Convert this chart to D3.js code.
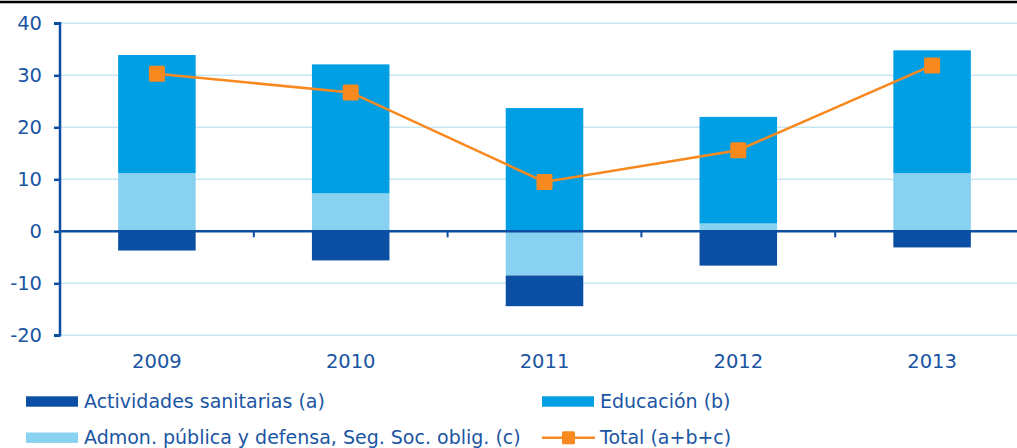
<!DOCTYPE html>
<html>
<head>
<meta charset="utf-8">
<script src="https://cdn.jsdelivr.net/npm/d3@7"></script>
<style>
  body { margin: 0; background: #fff; }
  svg text { font-family: "DejaVu Sans", Verdana, sans-serif; fill: #1a55a3; }
</style>
</head>
<body>
<svg id="chart" width="1017" height="448"></svg>
<script>
const years = ["2009", "2010", "2011", "2012", "2013"];
const sanitarias = [-3.7, -5.6, -5.9, -6.6, -3.1];   // (a)
const educacion = [22.7, 24.8, 23.7, 20.5, 23.6];    // (b)
const admon = [11.2, 7.3, -8.5, 1.5, 11.2];          // (c)
const total = [30.3, 26.7, 9.5, 15.6, 31.9];         // (a+b+c)
const yTicks = [-20, -10, 0, 10, 20, 30, 40];
const legendLabels = ["Actividades sanitarias (a)", "Educación (b)", "Admon. pública y defensa, Seg. Soc. oblig. (c)", "Total (a+b+c)"];

const colors = { a: "#0a4fa3", b: "#009fe3", c: "#89d1f1", total: "#f7891f" };
const axisColor = "#0b4ea2";
const gridColor = "#c8e7f4";

const svg = d3.select("#chart");
const W = 1017;
const mLeft = 60, mRight = 1029, mTop = 23.3, mBottom = 335.3;

const x = d3.scaleBand().domain(years).range([mLeft, mRight]).padding(0);
const y = d3.scaleLinear().domain([-20, 40]).range([mBottom, mTop]);

// top black rule
svg.append("line").attr("x1", 0).attr("x2", W).attr("y1", 2).attr("y2", 2)
  .attr("stroke", "#000").attr("stroke-width", 2.5);

// gridlines
svg.append("g").selectAll("line").data(yTicks.filter(d => d !== 0)).join("line")
  .attr("x1", mLeft).attr("x2", W)
  .attr("y1", d => y(d)).attr("y2", d => y(d))
  .attr("stroke", gridColor).attr("stroke-width", 1.5);

// stacked bars
const rows = years.map((yr, i) => ({ year: yr, c: admon[i], a: sanitarias[i], b: educacion[i] }));
const stack = d3.stack().keys(["c", "a", "b"]).offset(d3.stackOffsetDiverging);
const series = stack(rows);
const barW = x.bandwidth() * 0.4;

svg.append("g").selectAll("g").data(series).join("g")
  .attr("fill", s => colors[s.key])
  .selectAll("rect").data(s => s).join("rect")
  .attr("x", d => x(d.data.year) + x.bandwidth() / 2 - barW / 2)
  .attr("width", barW)
  .attr("y", d => y(Math.max(d[0], d[1])))
  .attr("height", d => Math.abs(y(d[0]) - y(d[1])));

// y axis
const yAxis = d3.axisLeft(y).tickValues(yTicks).tickSize(6).tickPadding(12).tickFormat(d => String(d));
const gy = svg.append("g").attr("transform", `translate(${mLeft},0)`).call(yAxis);
gy.select(".domain").attr("stroke", axisColor).attr("stroke-width", 2.5).attr("d", `M-6,${y(40)}H0V${y(-20)}H-6`);
gy.selectAll(".tick line").attr("stroke", axisColor).attr("stroke-width", 2.5);
gy.selectAll(".tick text").attr("font-size", 19.5).attr("fill", "#1a55a3")
  .style("font-family", "DejaVu Sans, sans-serif");

// zero line with category ticks
const gx = svg.append("g").attr("transform", `translate(0,${y(0)})`);
gx.append("line").attr("x1", mLeft).attr("x2", W).attr("y1", 0).attr("y2", 0)
  .attr("stroke", axisColor).attr("stroke-width", 2.5);
gx.selectAll("line.sep").data(years.slice(1)).join("line").attr("class", "sep")
  .attr("x1", d => x(d)).attr("x2", d => x(d)).attr("y1", 0).attr("y2", 6)
  .attr("stroke", axisColor).attr("stroke-width", 2);

// x labels
svg.append("g").selectAll("text").data(years).join("text")
  .attr("x", d => x(d) + x.bandwidth() / 2)
  .attr("y", 368)
  .attr("text-anchor", "middle")
  .attr("font-size", 19.5)
  .text(d => d);

// total line
const line = d3.line().x((d, i) => x(years[i]) + x.bandwidth() / 2).y(d => y(d));
svg.append("path").datum(total).attr("d", line)
  .attr("fill", "none").attr("stroke", colors.total).attr("stroke-width", 2.5);
const ms = 16;
svg.append("g").selectAll("rect").data(total).join("rect")
  .attr("x", (d, i) => x(years[i]) + x.bandwidth() / 2 - ms / 2)
  .attr("y", d => y(d) - ms / 2)
  .attr("width", ms).attr("height", ms).attr("rx", 1.5)
  .attr("fill", colors.total);

// legend
const legendPos = [
  { x: 26, y: 401.5, type: "bar", color: colors.a },
  { x: 542, y: 401.5, type: "bar", color: colors.b },
  { x: 26, y: 437.7, type: "bar", color: colors.c },
  { x: 542, y: 437.7, type: "line", color: colors.total }
];
const lg = svg.append("g");
legendLabels.forEach((lab, i) => {
  const p = legendPos[i];
  if (p.type === "bar") {
    lg.append("rect").attr("x", p.x).attr("y", p.y - 5.2).attr("width", 52).attr("height", 10.4).attr("fill", p.color);
  } else {
    lg.append("line").attr("x1", p.x).attr("x2", p.x + 53).attr("y1", p.y).attr("y2", p.y)
      .attr("stroke", p.color).attr("stroke-width", 2.5);
    lg.append("rect").attr("x", p.x + 20).attr("y", p.y - 6.5).attr("width", 13).attr("height", 13)
      .attr("rx", 1.5).attr("fill", p.color);
  }
  lg.append("text").attr("x", p.x + 58).attr("y", p.y + 6.7).attr("font-size", 19).text(lab);
});
</script>
</body>
</html>
